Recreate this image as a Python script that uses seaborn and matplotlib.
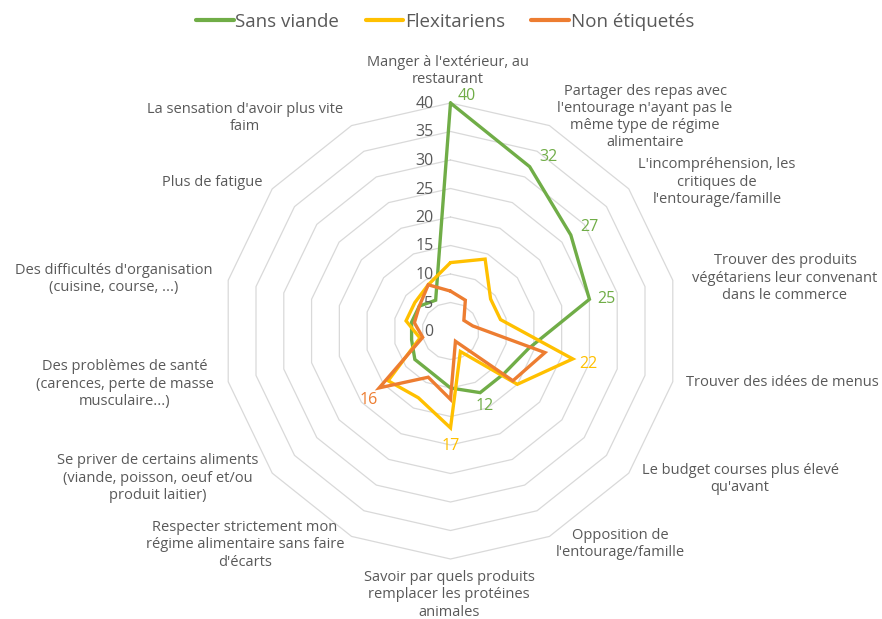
import numpy as np
import pandas as pd
import matplotlib
matplotlib.use("Agg")
import matplotlib.pyplot as plt
import seaborn as sns
from matplotlib.lines import Line2D

# ---------------- data ----------------
categories = [
    "Manger à l'extérieur, au\nrestaurant",
    "Partager des repas avec\nl'entourage n'ayant pas le\nmême type de régime\nalimentaire",
    "L'incompréhension, les\ncritiques de\nl'entourage/famille",
    "Trouver des produits\nvégétariens leur convenant\ndans le commerce",
    "Trouver des idées de menus",
    "Le budget courses plus élevé\nqu'avant",
    "Opposition de\nl'entourage/famille",
    "Savoir par quels produits\nremplacer les protéines\nanimales",
    "Respecter strictement mon\nrégime alimentaire sans faire\nd'écarts",
    "Se priver de certains aliments\n(viande, poisson, oeuf et/ou\nproduit laitier)",
    "Des problèmes de santé\n(carences, perte de masse\nmusculaire...)",
    "Des difficultés d'organisation\n(cuisine, course, ...)",
    "Plus de fatigue",
    "La sensation d'avoir plus vite\nfaim",
]
sans_viande = [40, 32, 27, 25, 14, 12, 12, 10, 8, 8, 7, 7, 7, 6]
flexitariens = [12, 14, 9, 9, 22, 15, 4, 17, 13, 14, 5.5, 8, 8, 9]
non_etiquetes = [7, 6, 3, 4, 17, 14, 2, 12, 9, 16, 5, 6.5, 7, 9]
series_names = ["Sans viande", "Flexitariens", "Non étiquetés"]
tick_values = [0, 5, 10, 15, 20, 25, 30, 35, 40]
# indices of points that carry a data label, per series
labelled_points = {"Sans viande": [0, 1, 2, 3, 6], "Flexitariens": [4, 7], "Non étiquetés": [9]}

# ---------------- style ----------------
colors = {"Sans viande": "#70AD47", "Flexitariens": "#FFC000", "Non étiquetés": "#ED7D31"}
text_color = "#595959"
grid_color = "#D9D9D9"
W, H = 882, 619

sns.set_theme(style="white")
plt.rcParams["font.family"] = ["Open Sans", "DejaVu Sans"]

n = len(categories)
angles = [2 * np.pi * i / n for i in range(n)]
angles_closed = angles + [2 * np.pi]

rows = []
for name, vals in zip(series_names, [sans_viande, flexitariens, non_etiquetes]):
    for a, v in zip(angles_closed, list(vals) + [vals[0]]):
        rows.append({"theta": a, "value": v, "serie": name})
df = pd.DataFrame(rows)

fig = plt.figure(figsize=(W / 100, H / 100), dpi=100)
cx, cy, R = 450.5, 331, 228
ax = fig.add_axes([(cx - R) / W, (H - cy - R) / H, 2 * R / W, 2 * R / H], projection="polar")
ax.set_theta_zero_location("N")
ax.set_theta_direction(-1)
ax.set_ylim(0, 40)
ax.grid(False)
ax.spines["polar"].set_visible(False)
ax.patch.set_alpha(0)

# polygonal grid rings
for r in tick_values[1:]:
    ax.plot(angles_closed, [r] * len(angles_closed), color=grid_color, lw=0.9,
            zorder=0, clip_on=False)

sns.lineplot(data=df, x="theta", y="value", hue="serie", palette=colors,
             hue_order=series_names, sort=False, estimator=None, lw=2.4,
             legend=False, ax=ax)
for ln in ax.get_lines():
    ln.set_clip_on(False)
    ln.set_solid_joinstyle("miter")

ax.set_xticks([])
ax.set_yticks([])
ax.set_xlabel("")
ax.set_ylabel("")
ax.set_ylim(0, 40)

# radial tick labels
for v in tick_values:
    ax.annotate(str(v), xy=(0, v), xytext=(-17, -1), textcoords="offset pixels",
                ha="right", va="center", color=text_color, fontsize=11.5,
                annotation_clip=False)

# data labels (offsets in pixels)
label_offsets = {
    ("Sans viande", 0): (16, 7), ("Sans viande", 1): (19, 10),
    ("Sans viande", 2): (19, 8), ("Sans viande", 3): (17, 0),
    ("Sans viande", 6): (4, -13), ("Flexitariens", 4): (16, -5),
    ("Flexitariens", 7): (0, -18), ("Non étiquetés", 9): (-11, -12),
}
all_vals = {"Sans viande": sans_viande, "Flexitariens": flexitariens, "Non étiquetés": non_etiquetes}
for name in series_names:
    for i in labelled_points[name]:
        v = all_vals[name][i]
        ax.annotate(f"{v:g}", xy=(angles[i], v), xytext=label_offsets[(name, i)],
                    textcoords="offset pixels", ha="center", va="center",
                    color=colors[name], fontsize=11.5, annotation_clip=False)

# category labels (pixel centres of each text block)
label_pos = [
    (448, 71), (645, 117), (717, 182), (785, 278), (782, 383), (740, 479), (620, 544),
    (449, 595), (245, 545), (158, 478), (125, 384), (114, 279), (212, 183), (245, 118),
]
for txt, (x, y) in zip(categories, label_pos):
    fig.text(x / W, 1 - y / H, txt, ha="center", va="center", color=text_color,
             fontsize=10.5, linespacing=1.2, multialignment="center")

# legend
handles = [Line2D([0], [0], color=colors[s], lw=3) for s in series_names]
fig.legend(handles, series_names, loc="center", bbox_to_anchor=(445 / W, 1 - 22 / H),
           ncol=3, frameon=False, fontsize=13.5, handlelength=2.0, handletextpad=0.1,
           columnspacing=1.4, labelcolor=text_color)

fig.savefig("out.png", dpi=100)
